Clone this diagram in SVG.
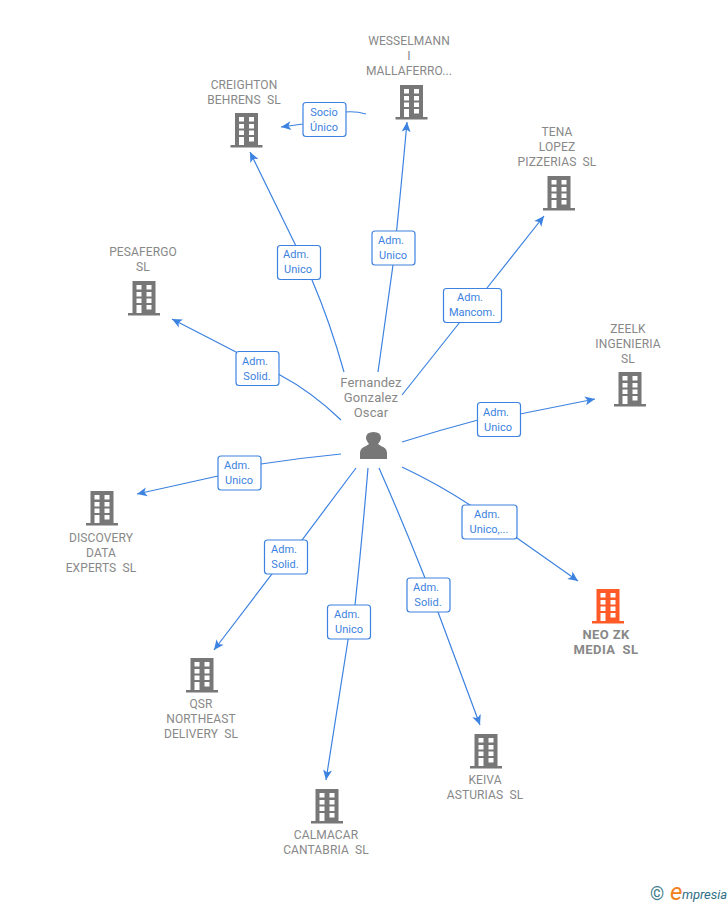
<svg xmlns="http://www.w3.org/2000/svg" width="728" height="905" viewBox="0 0 728 905">
<style>
text{font-family:Roboto,"Liberation Sans",Arial,sans-serif;white-space:pre}
.n{font-size:12px;fill:#888;text-anchor:middle;letter-spacing:.12px}
.b{font-size:13px;fill:#888;font-weight:700;text-anchor:middle;letter-spacing:.4px}
.p{font-size:13px;fill:#888;text-anchor:middle;letter-spacing:.1px}
.e{fill:none;stroke:#3c82e0;stroke-width:1.2;marker-end:url(#a)}
.l{fill:#fff;stroke:#3c82e0;stroke-width:1.2}
.t{font-size:11px;fill:#3c82e0;text-anchor:middle}
</style>
<defs>
<marker id="a" viewBox="0 0 12 12" refX="11" refY="6" markerWidth="12" markerHeight="12" markerUnits="userSpaceOnUse" orient="auto">
<path d="M11 6L1 1.5L3.5 6L1 10.500Z" fill="#3c82e0"/>
</marker>
<g id="w" fill="#fff">
<rect x="8.500" y="4" width="5" height="4.500"/><rect x="18.500" y="4" width="5" height="4.500"/>
<rect x="8.500" y="11" width="5" height="4.500"/><rect x="18.500" y="11" width="5" height="4.500"/>
<rect x="8.500" y="17.500" width="5" height="4.500"/><rect x="18.500" y="17.500" width="5" height="4.500"/>
<rect x="8.500" y="24" width="5" height="8"/><rect x="18.500" y="24" width="5" height="4.500"/>
</g>
<g id="o">
<path d="M4.500 0H27.500V32H32V34.500H0V32H4.500Z" fill="#777"/>
<use href="#w"/>
</g>
<g id="r">
<path d="M4.500 0H27.500V32H32V34.500H0V32H4.500Z" fill="#ff5a28"/>
<use href="#w"/>
</g>
</defs>
<rect width="728" height="905" fill="#fff"/>
<g id="connectors">
<path class="e" d="M344 372Q330 322 312 280L295 244L250 152"/>
<path class="e" d="M378 372L393 265Q400 200 407 122"/>
<path class="e" d="M402 395L460 322L487 288L544 216"/>
<path class="e" d="M341 420Q312 392 280 375L236 352L172 319"/>
<path class="e" d="M402 442Q440 430 478 420L520 414L595 399"/>
<path class="e" d="M341 454Q300 458 261 464L218 476L137 494"/>
<path class="e" d="M356 468L302 540L272 574L214 650"/>
<path class="e" d="M368 468Q362 540 355 605L348 640L326 780"/>
<path class="e" d="M379 468Q402 520 425 578L438 612L480 725"/>
<path class="e" d="M402 467Q438 484 470 505L517 538L578 581"/>
<path class="e" d="M366 114Q356 111 345 112L303 124L281 127"/>
</g>
<g id="labels">
<g><rect class="l" x="277.500" y="245.500" width="43" height="34" rx="3"/><text class="t" x="296" y="258">Adm.</text><text class="t" x="298" y="273">Unico</text></g>
<g><rect class="l" x="372" y="231" width="43" height="34" rx="3"/><text class="t" x="391" y="244">Adm.</text><text class="t" x="393" y="259">Unico</text></g>
<g><rect class="l" x="303" y="102.500" width="43" height="34" rx="3"/><text class="t" x="324" y="116">Socio</text><text class="t" x="324" y="131">Único</text></g>
<g><rect class="l" x="443.500" y="288.500" width="58" height="34" rx="3"/><text class="t" x="470" y="301">Adm.</text><text class="t" x="472" y="316">Mancom.</text></g>
<g><rect class="l" x="236" y="351.500" width="43" height="34" rx="3"/><text class="t" x="255" y="365">Adm.</text><text class="t" x="257" y="380">Solid.</text></g>
<g><rect class="l" x="477.500" y="402.500" width="43" height="34" rx="3"/><text class="t" x="496" y="416">Adm.</text><text class="t" x="498" y="431">Unico</text></g>
<g><rect class="l" x="218" y="456" width="43" height="34" rx="3"/><text class="t" x="237" y="469">Adm.</text><text class="t" x="239" y="484">Unico</text></g>
<g><rect class="l" x="264.500" y="540" width="43" height="34" rx="3"/><text class="t" x="284" y="553">Adm.</text><text class="t" x="285" y="568">Solid.</text></g>
<g><rect class="l" x="327.500" y="605" width="43" height="34" rx="3"/><text class="t" x="347" y="618">Adm.</text><text class="t" x="349" y="633">Unico</text></g>
<g><rect class="l" x="407" y="578" width="43" height="34" rx="3"/><text class="t" x="426" y="591">Adm.</text><text class="t" x="428" y="606">Solid.</text></g>
<g><rect class="l" x="462" y="505" width="55" height="34" rx="3"/><text class="t" x="487" y="518">Adm.</text><text class="t" x="489" y="533">Unico,...</text></g>
</g>
<g id="person">
<text class="p" x="371" y="387">Fernandez</text><text class="p" x="371" y="402">Gonzalez</text><text class="p" x="371" y="417">Oscar</text>
<path d="M360 459V453Q360 448 366 446L369 444Q366 440 366 438Q366 432 373.500 432Q381 432 381 438Q381 440 378 444L381 446Q387 448 387 453V459Z" fill="#777"/>
</g>
<g id="wesselmann"><use href="#o" x="395.500" y="85"/><text class="n" x="409" y="45">WESSELMANN</text><text class="n" x="409" y="60">I</text><text class="n" x="409" y="75">MALLAFERRO...</text></g>
<g id="creighton"><use href="#o" x="230.500" y="113"/><text class="n" x="244" y="89">CREIGHTON</text><text class="n" x="244" y="104">BEHRENS  SL</text></g>
<g id="tena"><use href="#o" x="543" y="176"/><text class="n" x="557" y="136">TENA</text><text class="n" x="557" y="151">LOPEZ</text><text class="n" x="557" y="166">PIZZERIAS  SL</text></g>
<g id="pesafergo"><use href="#o" x="128" y="281"/><text class="n" x="143" y="256">PESAFERGO</text><text class="n" x="143" y="271">SL</text></g>
<g id="zeelk"><use href="#o" x="614" y="372"/><text class="n" x="628" y="333">ZEELK</text><text class="n" x="628" y="348">INGENIERIA</text><text class="n" x="628" y="363">SL</text></g>
<g id="discovery"><use href="#o" x="86" y="491"/><text class="n" x="101" y="542">DISCOVERY</text><text class="n" x="101" y="557">DATA</text><text class="n" x="101" y="572">EXPERTS  SL</text></g>
<g id="qsr"><use href="#o" x="186" y="658"/><text class="n" x="201" y="708">QSR</text><text class="n" x="201" y="723">NORTHEAST</text><text class="n" x="201" y="738">DELIVERY  SL</text></g>
<g id="calmacar"><use href="#o" x="311" y="789"/><text class="n" x="326" y="839">CALMACAR</text><text class="n" x="326" y="854">CANTABRIA  SL</text></g>
<g id="keiva"><use href="#o" x="470" y="734"/><text class="n" x="485" y="784">KEIVA</text><text class="n" x="485" y="799">ASTURIAS  SL</text></g>
<g id="neo"><use href="#r" x="592" y="589"/><text class="b" x="606" y="639">NEO ZK</text><text class="b" x="606" y="654">MEDIA  SL</text></g>
<g id="logo">
<text x="650" y="900" font-size="18" fill="#3a7a8c">©</text>
<text x="670" y="900" font-size="24" font-style="italic" fill="#f08020" font-family="Liberation Serif,serif">e</text>
<text x="682" y="899" font-size="13" font-style="italic" fill="#2f6f85" textLength="45">mpresia</text>
</g>
</svg>
